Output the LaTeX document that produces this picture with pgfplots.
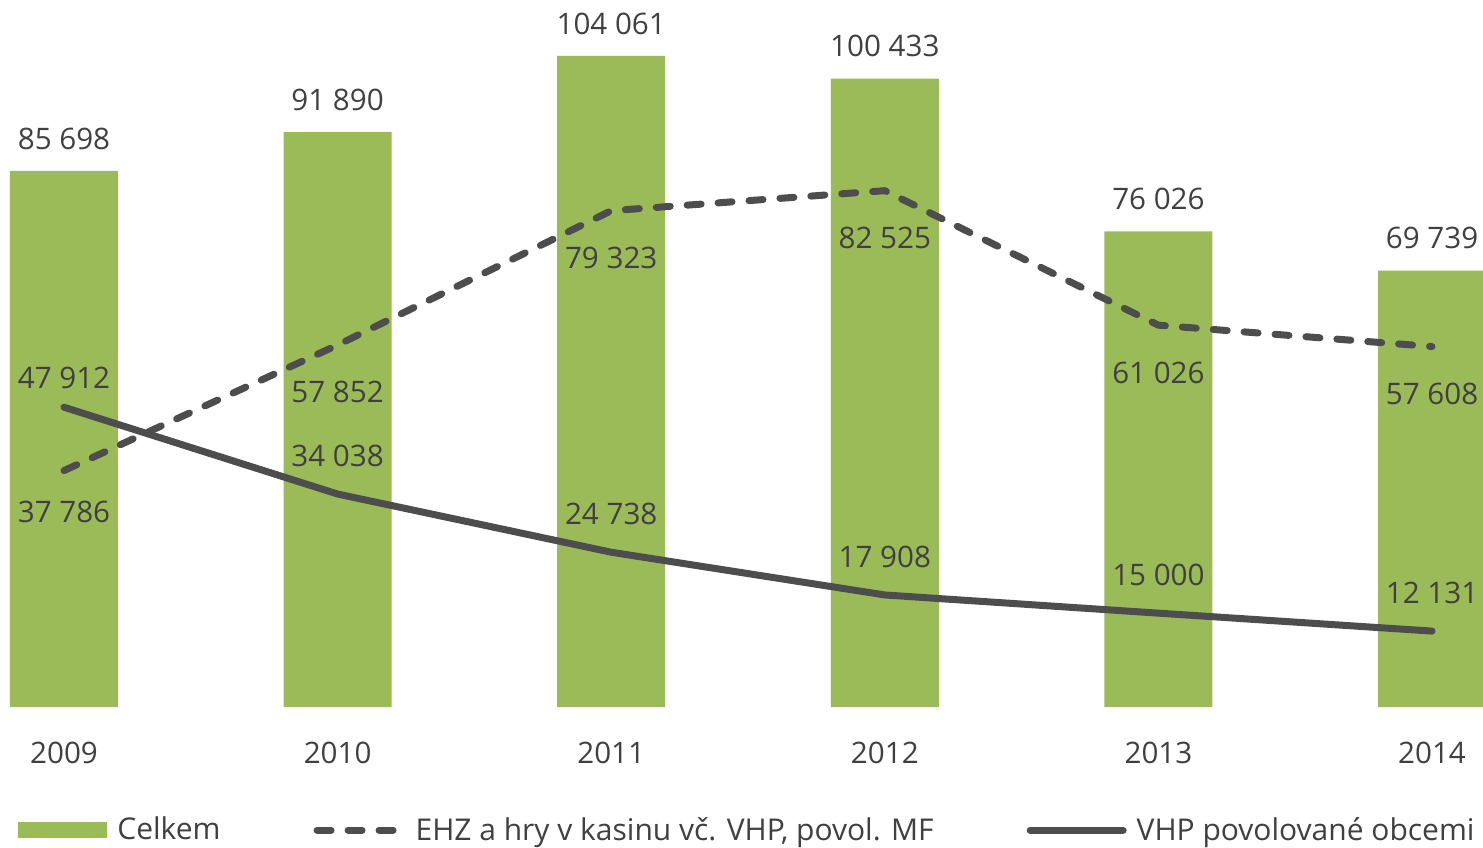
\documentclass[border=0pt]{standalone}
\usepackage{fontspec}
\setmainfont{Open Sans}
\usepackage{pgfplots}
\usepackage{pgfplotstable}
\pgfplotsset{compat=1.18}

\definecolor{barg}{HTML}{9BBB59}
\definecolor{lineg}{HTML}{4D4D4D}
\definecolor{txt}{HTML}{404040}

% values, label texts, and label offsets (pt) for the two lines
\pgfplotstableread[col sep=comma]{
x,celk,ehz,vhp,lc,le,lv,es,vs
0,85698,37786,47912,85 698,37 786,47 912,-13.5,7.5
1,91890,57852,34038,91 890,57 852,34 038,-16.5,12
2,104061,79323,24738,104 061,79 323,24 738,-16.5,12
3,100433,82525,17908,100 433,82 525,17 908,-16.5,12
4,76026,61026,15000,76 026,61 026,15 000,-16.5,12
5,69739,57608,12131,69 739,57 608,12 131,-16.5,12
}\data

\newcommand{\lbl}{\fontsize{14.8}{17}\selectfont}

\begin{document}
\begin{tikzpicture}
\begin{axis}[
    name=ax,
    scale only axis,
    width=741.5pt, height=353.5pt,
    xmin=-0.2339, xmax=5.1864,
    ymin=0, ymax=113000,
    clip=false,
    axis line style={draw=none},
    major tick length=0pt,
    ytick=\empty,
    scaled y ticks=false,
    xtick={0,...,5},
    xticklabels={2009,2010,2011,2012,2013,2014},
    xticklabel style={font=\lbl, text=txt, yshift=-14pt},
    legend columns=3,
    legend cell align=left,
    legend style={draw=none, fill=none, at={(0.0121,-0.174)}, anchor=west,
        font=\fontsize{15}{17}\selectfont, text=txt, inner sep=0pt,
        /tikz/every odd column/.append style={column sep=3pt},
        /tikz/every even column/.append style={column sep=44.5pt}},
]
\addplot[ybar, bar width=54pt, fill=barg, draw=none,
    point meta=explicit symbolic, nodes near coords,
    every node near coord/.append style={font=\lbl, text=txt, anchor=south, inner sep=0pt, yshift=10.5pt},
    legend image code/.code={\fill[barg] (0pt,-4pt) rectangle (44.5pt,4pt);}]
    table[x=x, y=celk, meta=lc] {\data};
\addlegendentry{Celkem}

\addplot[color=lineg, line width=3.5pt, line cap=round, line join=round,
    dash pattern=on 7pt off 8.5pt,
    point meta=explicit symbolic, nodes near coords,
    visualization depends on={\thisrow{es} \as \eshift},
    every node near coord/.append style={font=\lbl, text=txt, anchor=north, inner sep=0pt, yshift=\eshift},
    legend image code/.code={\draw[lineg, line width=3.5pt, line cap=round, dash pattern=on 7pt off 8.5pt] (0pt,0pt) -- (42.5pt,0pt);}]
    table[x=x, y=ehz, meta=le] {\data};
\addlegendentry{EHZ a hry v kasinu vč. VHP, povol. MF}

\addplot[color=lineg, line width=3.5pt, line cap=round, line join=round,
    point meta=explicit symbolic, nodes near coords,
    visualization depends on={\thisrow{vs} \as \vshift},
    every node near coord/.append style={font=\lbl, text=txt, anchor=south, inner sep=0pt, yshift=\vshift},
    legend image code/.code={\draw[lineg, line width=3.5pt, line cap=round] (0pt,0pt) -- (46.5pt,0pt);}]
    table[x=x, y=vhp, meta=lv] {\data};
\addlegendentry{VHP povolované obcemi}
\end{axis}
\pgfresetboundingbox
\path (ax.north west) rectangle ([yshift=-70pt]ax.south east);
\end{tikzpicture}
\end{document}
